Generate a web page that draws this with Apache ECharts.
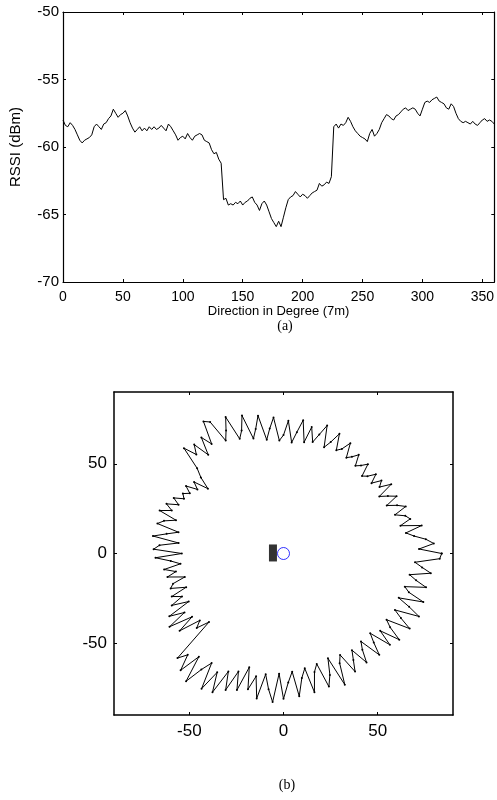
<!DOCTYPE html>
<html><head><meta charset="utf-8">
<script src="https://cdn.jsdelivr.net/npm/echarts@6/dist/echarts.min.js"></script>
<style>html,body{margin:0;padding:0;background:#fff}#c{width:497px;height:800px}</style>
</head><body><div id="c"></div>
<script>
// ---- (a) RSSI vs direction, sampled every 2 degrees from 0 to 360 ----
const degStep = 2;
const rssi = [
-58.0,-58.4,-58.5,-58.2,-58.4,-58.7,-59.1,-59.5,-59.7,-59.5,
-59.4,-59.3,-59.1,-58.5,-58.3,-58.5,-58.7,-58.3,-58.2,-57.9,
-57.7,-57.2,-57.5,-57.8,-57.6,-57.5,-57.3,-57.7,-58.2,-58.6,
-58.9,-58.7,-58.5,-58.8,-58.6,-58.8,-58.5,-58.7,-58.5,-58.7,
-58.6,-58.4,-58.6,-58.8,-58.3,-58.5,-58.8,-59.1,-59.5,-59.3,
-59.2,-59.4,-59.0,-59.3,-59.5,-59.2,-59.1,-59.0,-59.1,-59.5,
-59.6,-59.7,-60.2,-60.5,-60.4,-60.9,-61.2,-63.9,-63.8,-64.3,
-64.2,-64.3,-64.1,-64.2,-64.0,-64.3,-64.1,-64.0,-63.8,-63.7,
-64.1,-64.3,-64.7,-64.2,-64.0,-64.3,-64.8,-65.3,-65.6,-65.9,
-65.5,-65.9,-65.2,-64.5,-63.9,-63.7,-63.6,-63.3,-63.5,-63.7,
-63.5,-63.6,-63.8,-63.6,-63.4,-63.3,-63.2,-62.7,-62.9,-62.8,
-62.6,-62.7,-62.2,-58.5,-58.3,-58.6,-58.3,-58.4,-58.2,-57.8,
-58.1,-58.5,-58.8,-59.0,-59.2,-59.3,-59.4,-59.6,-59.0,-58.7,
-59.2,-59.0,-58.7,-58.2,-57.9,-57.6,-57.7,-57.9,-58.0,-57.7,
-57.6,-57.4,-57.2,-57.1,-57.3,-57.2,-57.1,-57.2,-57.5,-57.7,
-57.2,-56.7,-56.6,-56.7,-56.5,-56.4,-56.3,-56.6,-56.7,-56.8,
-57.1,-57.2,-56.8,-57.0,-57.5,-57.9,-58.1,-58.2,-58.1,-58.2,
-58.3,-58.1,-58.3,-58.4,-58.2,-58.0,-57.9,-58.1,-58.0,-58.1,
-58.3
];

// ---- (b) estimated range (radius) every 2 degrees, angle counter-clockwise from +x ----
const angStep = 2;
const radius = [
84,72,80,76,70, 66,75,64,70,68,
63,70,66,61,68, 64,60,69,63,66,
61,66,62,60,67, 64,62,68,65,63,
71,66,64,73,67, 63,75,69,64,72,
63,75,68,62,74, 66,63,76,70,64,
78,71,66,80,72, 68,82,75,70,83,
85,72,78,68,77, 72,79,66,61,54,
62,58,64,60,63, 61,66,62,68,64,
70,60,66,69,57, 63,70,56,66,69,
54,68,60,55,64, 58,63,54,61,63,
55,64,59,66,57, 70,62,73,60,70,
58,62,55,81,76, 85,73,88,78,72,
87,75,86,72,82, 70,80,66,78,70,
82,68,76,83,67, 81,72,66,80,70,
65,79,68,64,78, 72,63,80,68,64,
76,70,65,75,68, 64,76,69,64,76,
67,78,70,66,79, 72,67,80,73,66,
79,70,67,78,72, 68,79,74,70,83
];
const anchorPos = [-5.6, 0.3];   // black block
const nodePos = [0, 0];          // blue circle
const bTicks = [-50, 0, 50];

const topData = rssi.map((v, i) => [i * degStep, v]);
const polyData = radius.map((r, i) => {
  const a = i * angStep * Math.PI / 180;
  return [r * Math.cos(a), r * Math.sin(a)];
});
polyData.push(polyData[0]);

const FONT = 'Liberation Sans';
const lineA = {show: true, onZero: false, lineStyle: {color: '#000', width: 1.2}};
const lineB = {show: true, onZero: false, lineStyle: {color: '#000', width: 1.5}};
const tickIn = {show: true, inside: true, length: 3, lineStyle: {color: '#000'}};
const tickB = {show: true, inside: true, length: 3, lineStyle: {color: '#000'}, customValues: bTicks};

const chart = echarts.init(document.getElementById('c'), null, {renderer: 'canvas'});
chart.setOption({
  animation: false,
  backgroundColor: '#fff',
  title: [
    {text: '(a)', left: 280, top: 314, textAlign: 'center',
     textStyle: {fontFamily: 'Liberation Serif', fontSize: 14, fontWeight: 'normal', color: '#000'}},
    {text: '(b)', left: 282, top: 773, textAlign: 'center',
     textStyle: {fontFamily: 'Liberation Serif', fontSize: 14, fontWeight: 'normal', color: '#000'}}
  ],
  grid: [
    {left: 63, top: 12, width: 433, height: 270},
    {left: 114, top: 392, width: 339, height: 323}
  ],
  xAxis: [
    {gridIndex: 0, type: 'value', min: 0, max: 360, interval: 50, position: 'bottom',
     axisLine: lineA, axisTick: tickIn, splitLine: {show: false},
     axisLabel: {color: '#000', fontFamily: FONT, fontSize: 14, margin: 8, showMaxLabel: false},
     name: 'Direction in Degree (7m)', nameLocation: 'middle', nameGap: 20,
     nameTextStyle: {color: '#000', fontFamily: FONT, fontSize: 13}},
    {gridIndex: 0, type: 'value', min: 0, max: 360, interval: 50, position: 'top',
     axisLine: lineA, axisTick: tickIn, splitLine: {show: false}, axisLabel: {show: false}},
    {gridIndex: 1, type: 'value', min: -90, max: 90, position: 'bottom',
     axisLine: lineB, axisTick: tickB, splitLine: {show: false},
     axisLabel: {color: '#000', fontFamily: FONT, fontSize: 17, margin: 8, customValues: bTicks}},
    {gridIndex: 1, type: 'value', min: -90, max: 90, position: 'top',
     axisLine: lineB, axisTick: tickB, splitLine: {show: false}, axisLabel: {show: false}}
  ],
  yAxis: [
    {gridIndex: 0, type: 'value', min: -70, max: -50, interval: 5, position: 'left',
     axisLine: lineA, axisTick: tickIn, splitLine: {show: false},
     axisLabel: {color: '#000', fontFamily: FONT, fontSize: 15, margin: 4},
     name: 'RSSI (dBm)', nameLocation: 'middle', nameGap: 40, nameRotate: 90,
     nameTextStyle: {color: '#000', fontFamily: FONT, fontSize: 15}},
    {gridIndex: 0, type: 'value', min: -70, max: -50, interval: 5, position: 'right',
     axisLine: lineA, axisTick: tickIn, splitLine: {show: false}, axisLabel: {show: false}},
    {gridIndex: 1, type: 'value', min: -90, max: 90, position: 'left',
     axisLine: lineB, axisTick: tickB, splitLine: {show: false},
     axisLabel: {color: '#000', fontFamily: FONT, fontSize: 17, margin: 7, customValues: bTicks}},
    {gridIndex: 1, type: 'value', min: -90, max: 90, position: 'right',
     axisLine: lineB, axisTick: tickB, splitLine: {show: false}, axisLabel: {show: false}}
  ],
  series: [
    {type: 'line', xAxisIndex: 0, yAxisIndex: 0, data: topData, showSymbol: false,
     lineStyle: {color: '#000', width: 1}, silent: true},
    {type: 'line', xAxisIndex: 2, yAxisIndex: 2, data: polyData, showSymbol: true, symbol: 'circle', symbolSize: 2,
     itemStyle: {color: '#000'}, lineStyle: {color: '#000', width: 1}, silent: true},
    {type: 'scatter', xAxisIndex: 2, yAxisIndex: 2, data: [anchorPos], symbol: 'rect', symbolSize: [8, 17],
     itemStyle: {color: '#000'}, silent: true},
    {type: 'scatter', xAxisIndex: 2, yAxisIndex: 2, data: [nodePos], symbol: 'circle', symbolSize: 12,
     itemStyle: {color: 'rgba(0,0,0,0)', borderColor: '#0000ff', borderWidth: 1}, silent: true}
  ]
});
</script></body></html>
